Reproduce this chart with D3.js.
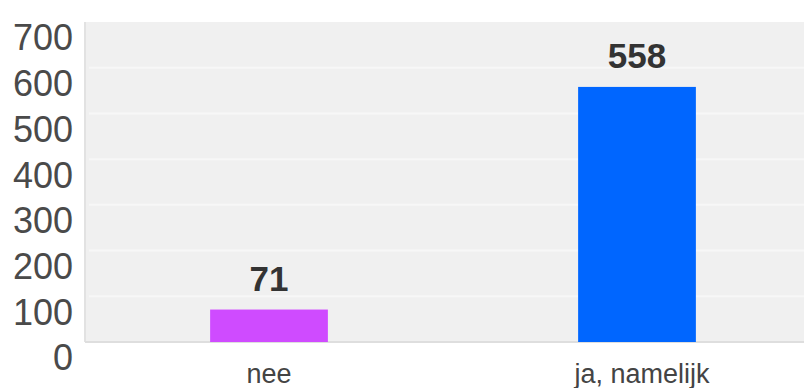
<!DOCTYPE html>
<html>
<head>
<meta charset="utf-8">
<script src="https://cdn.jsdelivr.net/npm/d3@7"></script>
<style>
  body { margin: 0; background: #fff; }
  svg { display: block; font-family: "Liberation Sans", Arial, sans-serif; }
</style>
</head>
<body>
<svg id="chart"></svg>
<script>
const width = 804;
const height = 388;

// data
const categories = ["nee", "ja, namelijk"];
const values = [71, 558];
const barColors = ["#cf4bff", "#0066ff"];
const yTicks = [0, 100, 200, 300, 400, 500, 600, 700];

const svg = d3.select("#chart").attr("width", width).attr("height", height);

const plotLeft = 85, plotTop = 22, plotBottom = 342;
// plot runs off the right edge of the picture
const plotRight = 821;

const x = d3.scaleBand().domain(categories).range([plotLeft, plotRight]).paddingInner(0.68).paddingOuter(0.34);
const y = d3.scaleLinear().domain([0, 700]).range([plotBottom, plotTop]);

// plot background
svg.append("rect")
    .attr("x", plotLeft).attr("y", plotTop)
    .attr("width", plotRight - plotLeft).attr("height", plotBottom - plotTop)
    .attr("fill", "#f0f0f0");

// grid lines, very faint
svg.append("g").selectAll("line").data(yTicks.slice(1, -1)).enter().append("line")
    .attr("x1", plotLeft + 4).attr("x2", plotRight)
    .attr("y1", d => y(d)).attr("y2", d => y(d))
    .attr("stroke", "#f7f7f7").attr("stroke-width", 2);

// frame edges (left + bottom)
svg.append("line").attr("x1", plotLeft).attr("x2", plotLeft).attr("y1", plotTop).attr("y2", plotBottom)
    .attr("stroke", "#e2e2e2").attr("stroke-width", 2);
svg.append("line").attr("x1", plotLeft).attr("x2", plotRight).attr("y1", plotBottom).attr("y2", plotBottom)
    .attr("stroke", "#dedede").attr("stroke-width", 2);

// y axis labels (sit a bit lower than their grid lines in the original)
const yAxis = d3.axisLeft(y).tickValues(yTicks).tickSize(0).tickPadding(0);
const yg = svg.append("g").attr("transform", "translate(73,15)").call(yAxis);
yg.select(".domain").remove();
yg.selectAll("text")
    .attr("font-size", 36)
    .attr("font-family", "Liberation Sans, Arial, sans-serif")
    .attr("fill", "#4a4a4a")
    .attr("dy", "0.36em");

// bars
svg.append("g").selectAll("rect").data(values).enter().append("rect")
    .attr("x", (d, i) => x(categories[i]))
    .attr("y", d => y(d))
    .attr("width", x.bandwidth())
    .attr("height", d => y(0) - y(d))
    .attr("fill", (d, i) => barColors[i]);

// value labels
svg.append("g").selectAll("text").data(values).enter().append("text")
    .attr("x", (d, i) => x(categories[i]) + x.bandwidth() / 2)
    .attr("y", d => y(d) - 19)
    .attr("text-anchor", "middle")
    .attr("font-size", 35)
    .attr("font-weight", "bold")
    .attr("fill", "#333")
    .text(d => d);

// category labels
const xAxis = d3.axisBottom(x).tickSize(0).tickPadding(0);
const xg = svg.append("g").attr("transform", "translate(0,383)").call(xAxis);
xg.select(".domain").remove();
xg.selectAll("text")
    .attr("font-size", 27)
    .attr("font-family", "Liberation Sans, Arial, sans-serif")
    .attr("fill", "#444")
    .attr("dy", 0)
    .attr("dx", (d, i) => i === 1 ? 5 : 0);
</script>
</body>
</html>
